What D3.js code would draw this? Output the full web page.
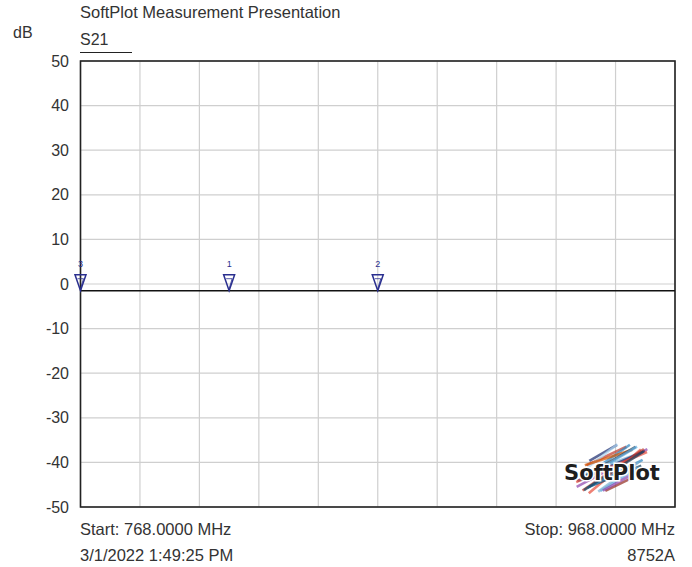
<!DOCTYPE html>
<html><head><meta charset="utf-8">
<script src="https://cdn.jsdelivr.net/npm/d3@7"></script>
<style>
body{margin:0;background:#fff;}
text{font-family:"Liberation Sans",Arial,sans-serif;fill:#333;}
</style></head>
<body>
<svg id="chart" width="692" height="567"></svg>
<script>
const title = "SoftPlot Measurement Presentation";
const traceName = "S21";
const yUnit = "dB";
const yTicks = [50, 40, 30, 20, 10, 0, -10, -20, -30, -40, -50];
const freqStart = 768, freqStop = 968; // MHz
const xGrid = [768, 788, 808, 828, 848, 868, 888, 908, 928, 948, 968];
const traceFreq = [768, 818, 868, 918, 968];
const traceDb = [-1.5, -1.5, -1.5, -1.5, -1.5];
const markerNames = ["3", "1", "2"];
const markerFreq = [768, 818, 868];
const markerDb = [-1.5, -1.5, -1.5];
const footerLeft = ["Start: 768.0000 MHz", "3/1/2022 1:49:25 PM"];
const footerRight = ["Stop: 968.0000 MHz", "8752A"];

const svg = d3.select("#chart");
const L = 80.5, R = 675, T = 61, B = 507;
const x = d3.scaleLinear().domain([freqStart, freqStop]).range([L, R]);
const y = d3.scaleLinear().domain([-50, 50]).range([B, T]);

// grid
svg.append("g").selectAll("line").data(xGrid).join("line")
  .attr("x1", d => x(d)).attr("x2", d => x(d)).attr("y1", T).attr("y2", B)
  .attr("stroke", "#cfcfcf").attr("stroke-width", 1.2);
svg.append("g").selectAll("line").data(yTicks).join("line")
  .attr("x1", L).attr("x2", R).attr("y1", d => y(d)).attr("y2", d => y(d))
  .attr("stroke", "#cfcfcf").attr("stroke-width", 1.2);

// logo (decorative)
const logo = svg.append("g").attr("transform", "translate(612,468)");
const strokeCols = ["#1a2a6e","#c0392b","#2e86c1","#7fb3d5","#8e44ad","#e74c3c","#154360","#5dade2","#922b21","#aed6f1","#d35400","#2c3e50"];
const strokeAng = [-30,-25,-35,-20,-28,-40,-22,-32,-26,-38,-18,-30,-24,-34,-27,-36,-29,-23,-33,-31];
const strokeOff = [-16,-12,-8,-4,0,4,8,12,16,-14,-10,-6,-2,2,6,10,14,-1,3,-5];
strokeAng.forEach((a,i)=>{
  const len = 40 - Math.abs(strokeOff[i])*1.5;
  logo.append("line")
    .attr("x1", -len).attr("x2", len).attr("y1", strokeOff[i]*1.1).attr("y2", strokeOff[i]*1.1)
    .attr("transform", `rotate(${a})`)
    .attr("stroke", strokeCols[i % strokeCols.length]).attr("stroke-width", 2.6).attr("opacity", 0.7);
});
logo.append("text").attr("x", 0).attr("y", 12).attr("text-anchor", "middle")
  .style("font-family", "'DejaVu Sans',sans-serif").style("font-weight", "bold").style("font-size", "21px")
  .style("fill", "#1e1e1e").attr("stroke", "#fff").attr("stroke-width", 3).attr("paint-order", "stroke")
  .text("SoftPlot");

// frame
svg.append("rect").attr("x", L).attr("y", T).attr("width", R - L).attr("height", B - T)
  .attr("fill", "none").attr("stroke", "#222").attr("stroke-width", 1.6);

// y tick labels
svg.append("g").selectAll("text").data(yTicks).join("text")
  .attr("x", 69).attr("y", d => y(d) + 5.5).attr("text-anchor", "end")
  .style("font-size", "16px").text(d => d);

// trace
const line = d3.line().x(d => x(d[0])).y(d => y(d[1]));
svg.append("path").datum(traceFreq.map((f,i)=>[f, traceDb[i]]))
  .attr("d", line).attr("fill", "none").attr("stroke", "#111").attr("stroke-width", 1.6);

// markers
const mk = svg.append("g").selectAll("g").data(markerFreq).join("g")
  .attr("transform", (d,i) => `translate(${x(d)},${y(markerDb[i])})`);
mk.append("path").attr("d", "M-5.5,-16 L5.5,-16 L0,0 Z")
  .attr("fill", "none").attr("stroke", "#2a2f8f").attr("stroke-width", 1.5);
mk.append("path").attr("d", "M-3,-12 L3,-12 L0,-2")
  .attr("fill", "none").attr("stroke", "#2a2f8f").attr("stroke-width", 0.8);
mk.append("text").attr("x", 0).attr("y", -24).attr("text-anchor", "middle")
  .style("font-size", "9px").style("fill", "#2a2f8f").text((d,i) => markerNames[i]);

// titles
svg.append("text").attr("x", 80).attr("y", 18).style("font-size", "16.5px").text(title);
svg.append("text").attr("x", 13).attr("y", 38).style("font-size", "16px").text(yUnit);
svg.append("text").attr("x", 80).attr("y", 45).style("font-size", "16px").text(traceName);
svg.append("line").attr("x1", 80).attr("x2", 132).attr("y1", 52.5).attr("y2", 52.5)
  .attr("stroke", "#222").attr("stroke-width", 1.2);

// footer
svg.append("g").selectAll("text").data(footerLeft).join("text")
  .attr("x", 80).attr("y", (d,i) => 535 + i*26).style("font-size", "16.5px").text(d => d);
svg.append("g").selectAll("text").data(footerRight).join("text")
  .attr("x", 675).attr("y", (d,i) => 535 + i*26).attr("text-anchor", "end").style("font-size", "16.5px").text(d => d);
</script>
</body></html>
